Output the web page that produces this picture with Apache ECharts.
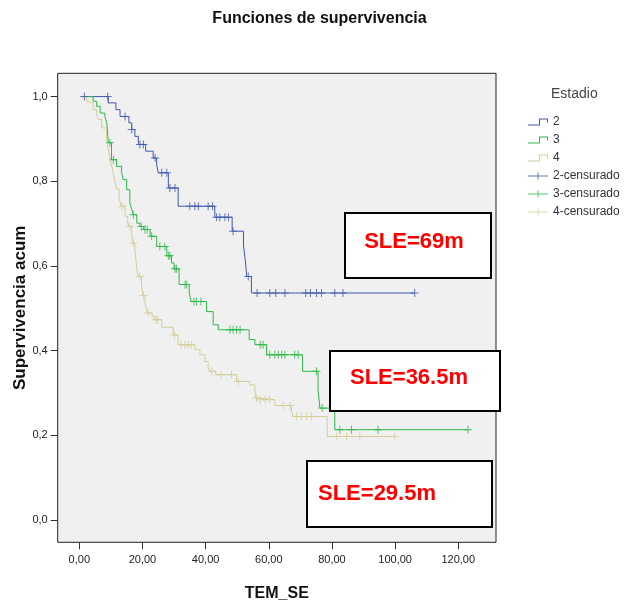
<!DOCTYPE html>
<html lang="es">
<head>
<meta charset="UTF-8">
<title>Funciones de supervivencia</title>
<script src="https://cdn.jsdelivr.net/npm/echarts@6.0.0/dist/echarts.min.js"></script>
<style>
  html, body { margin: 0; padding: 0; background: #fff; }
  #chart { width: 639px; height: 608px; }
</style>
</head>
<body>
<div id="chart"></div>
<script>
// marcas del eje
var ticksX = [0, 20, 40, 60, 80, 100, 120];
var ticksY = [0, 0.2, 0.4, 0.6, 0.8, 1.0];

// Estadio 2: [tiempo, supervivencia tras el evento]
var pasos2 = [[0.5,1],[9.2,0.985],[11.6,0.969],[12.9,0.953],[15.7,0.938],[16.6,0.922],[17.6,0.906],
  [18.7,0.887],[21.0,0.871],[23.4,0.855],[24.5,0.839],[25.0,0.820],[28.2,0.784],[31.3,0.741],
  [42.9,0.715],[48.4,0.682],[52.0,0.647],[52.6,0.611],[53.0,0.575],[54.5,0.536],[106.2,0.536]];
var cens2 = [[1.6,1],[9.0,1],[14.5,0.953],[16.6,0.922],[19.2,0.887],[20.3,0.887],[24.0,0.855],
  [26.1,0.820],[27.7,0.820],[28.7,0.784],[30.3,0.784],[35.0,0.741],[36.6,0.741],[37.7,0.741],
  [40.8,0.741],[42.2,0.741],[43.5,0.715],[44.5,0.715],[46.1,0.715],[47.2,0.715],[48.7,0.682],
  [53.5,0.575],[56.3,0.536],[60.3,0.536],[62.2,0.536],[65.1,0.536],[71.7,0.536],[73.2,0.536],
  [75.1,0.536],[76.7,0.536],[80.9,0.536],[83.5,0.536],[106.2,0.536]];

// Estadio 3
var pasos3 = [[0.5,1],[4.4,0.989],[5.5,0.977],[6.6,0.961],[8.1,0.953],[8.7,0.938],[9.2,0.891],
  [10.2,0.851],[11.8,0.835],[13.4,0.820],[13.9,0.804],[15.0,0.780],[16.0,0.749],[16.6,0.733],
  [17.1,0.721],[18.2,0.701],[19.2,0.693],[20.3,0.686],[22.4,0.670],[24.5,0.646],[27.7,0.624],
  [29.2,0.607],[30.0,0.593],[31.6,0.556],[34.8,0.536],[35.4,0.516],[40.3,0.492],[42.4,0.461],
  [44.0,0.449],[53.8,0.426],[55.6,0.414],[59.3,0.390],[70.7,0.351],[75.6,0.307],[76.2,0.264],
  [80.9,0.213],[123.1,0.213]];
var cens3 = [[9.7,0.891],[10.8,0.851],[17.1,0.721],[19.6,0.693],[20.8,0.686],[21.5,0.686],
  [22.9,0.670],[25.5,0.646],[27.1,0.646],[28.2,0.624],[28.7,0.624],[30.3,0.593],[30.8,0.593],
  [33.5,0.556],[34.0,0.556],[36.3,0.516],[37.1,0.516],[38.5,0.516],[47.7,0.449],[48.7,0.449],
  [49.8,0.449],[50.9,0.449],[57.3,0.414],[58.2,0.414],[60.3,0.390],[61.9,0.390],[63.0,0.390],
  [64.1,0.390],[65.1,0.390],[68.2,0.390],[69.3,0.390],[75.1,0.351],[76.9,0.264],[82.5,0.213],
  [86.2,0.213],[94.6,0.213],[123.1,0.213]];

// Estadio 4
var pasos4 = [[0.5,1],[2.3,0.989],[2.8,0.985],[4.4,0.969],[5.5,0.957],[6.0,0.946],[7.1,0.926],
  [8.6,0.898],[9.2,0.875],[9.7,0.855],[10.3,0.835],[10.8,0.815],[11.3,0.800],[11.8,0.782],
  [12.6,0.760],[13.2,0.741],[14.5,0.717],[15.3,0.705],[15.6,0.693],[16.6,0.675],[16.9,0.654],
  [17.6,0.638],[18.0,0.610],[18.2,0.591],[18.8,0.575],[19.7,0.560],[20.1,0.530],[20.8,0.510],
  [21.3,0.496],[21.6,0.489],[23.0,0.481],[23.8,0.473],[26.1,0.455],[29.7,0.437],[31.3,0.414],
  [36.6,0.402],[38.2,0.390],[39.8,0.374],[40.8,0.359],[41.4,0.351],[43.2,0.343],[49.8,0.327],
  [54.0,0.319],[55.6,0.303],[55.9,0.288],[56.5,0.284],[61.9,0.270],[67.2,0.256],[67.7,0.244],
  [78.5,0.197],[99.9,0.197]];
var cens4 = [[13.5,0.741],[16.0,0.693],[17.1,0.654],[19.2,0.575],[20.3,0.530],[21.8,0.489],
  [24.3,0.473],[24.8,0.473],[30.1,0.437],[32.2,0.414],[33.5,0.414],[34.5,0.414],[35.5,0.414],
  [41.9,0.351],[44.8,0.343],[48.2,0.343],[50.3,0.327],[56.1,0.288],[57.2,0.284],[58.8,0.284],
  [60.3,0.284],[64.6,0.270],[66.7,0.270],[68.8,0.244],[70.4,0.244],[72.0,0.244],[73.5,0.244],
  [81.5,0.197],[84.6,0.197],[88.8,0.197],[99.9,0.197]];

var colores = ['#3E58AC', '#2EB848', '#D3CE97'];
var cruz = 'path://M3.5,0H4.5V8H3.5Z M0,3.5H8V4.5H0Z';
var iconoPaso = 'path://M0,6H11V0H20V4H19V1H12V7H0Z';
var iconoCruz = 'path://M0,3H20V4H0Z M9.5,0H10.5V7H9.5Z';

function coma(v, d) { return v.toFixed(d).replace('.', ','); }

var chart = echarts.init(document.getElementById('chart'));

function linea(nombre, datos, color) {
  return { name: nombre, type: 'line', step: 'end', data: datos, symbol: 'none',
    lineStyle: { color: color, width: 1 }, itemStyle: { color: color }, z: 2 };
}
function censura(nombre, datos, color) {
  return { name: nombre, type: 'scatter', data: datos, symbol: cruz, symbolSize: 8,
    itemStyle: { color: color }, z: 3 };
}

var option = {
  animation: false,
  textStyle: { fontFamily: 'Liberation Sans' },
  title: [
    { text: 'Funciones de supervivencia', left: 'center', top: 11, padding: 0,
      textStyle: { fontSize: 16, fontWeight: 'bold', color: '#111' } },
    { text: 'Estadio', left: 551, top: 87, padding: 0,
      textStyle: { fontSize: 14, fontWeight: 'normal', color: '#444' } }
  ],
  legend: {
    orient: 'vertical', left: 528, top: 116, padding: 0,
    itemWidth: 20, itemHeight: 7, itemGap: 6, selectedMode: false,
    itemStyle: { borderWidth: 0 },
    textStyle: { fontSize: 12, color: '#333' },
    data: [
      { name: '2', icon: iconoPaso }, { name: '3', icon: iconoPaso }, { name: '4', icon: iconoPaso },
      { name: '2-censurado', icon: iconoCruz }, { name: '3-censurado', icon: iconoCruz },
      { name: '4-censurado', icon: iconoCruz }
    ]
  },
  grid: {
    left: 57.7, top: 73.3, width: 438.3, height: 469, show: true,
    backgroundColor: '#F0F0F0', borderColor: '#222', borderWidth: 1,
    outerBoundsMode: 'none'
  },
  xAxis: {
    type: 'value', min: -6.84, max: 131.95,
    name: 'TEM_SE', nameLocation: 'middle', nameGap: 43, nameMoveOverlap: false,
    nameTextStyle: { fontSize: 16, fontWeight: 'bold', color: '#111' },
    axisLine: { show: false, onZero: false },
    axisTick: { show: true, length: 7, customValues: ticksX, lineStyle: { color: '#333' } },
    axisLabel: { customValues: ticksX, margin: 12, fontSize: 11, color: '#222',
      formatter: function (v) { return coma(v, 2); } },
    splitLine: { show: false }
  },
  yAxis: {
    type: 'value', min: -0.053, max: 1.055,
    name: 'Supervivencia acum', nameLocation: 'middle', nameGap: 29, nameMoveOverlap: false,
    nameTextStyle: { fontSize: 17, fontWeight: 'bold', color: '#111' },
    axisLine: { show: false, onZero: false },
    axisTick: { show: true, length: 7, customValues: ticksY, lineStyle: { color: '#333' } },
    axisLabel: { customValues: ticksY, margin: 10, fontSize: 11, color: '#222',
      formatter: function (v) { return coma(v, 1); } },
    splitLine: { show: false }
  },
  series: [
    linea('2', pasos2, colores[0]), linea('3', pasos3, colores[1]), linea('4', pasos4, colores[2]),
    censura('2-censurado', cens2, colores[0]), censura('3-censurado', cens3, colores[1]),
    censura('4-censurado', cens4, colores[2])
  ],
  graphic: [
    { type: 'rect', z: 100, shape: { x: 345, y: 213, width: 146, height: 65 },
      style: { fill: '#fff', stroke: '#000', lineWidth: 2 } },
    { type: 'text', z: 101, style: { text: 'SLE=69m', x: 414, y: 242, fill: '#f00',
      font: 'bold 22px "Liberation Sans"', textAlign: 'center', align: 'center',
      textVerticalAlign: 'middle', verticalAlign: 'middle' } },
    { type: 'rect', z: 100, shape: { x: 330, y: 351, width: 170, height: 60 },
      style: { fill: '#fff', stroke: '#000', lineWidth: 2 } },
    { type: 'text', z: 101, style: { text: 'SLE=36.5m', x: 409, y: 378, fill: '#f00',
      font: 'bold 22px "Liberation Sans"', textAlign: 'center', align: 'center',
      textVerticalAlign: 'middle', verticalAlign: 'middle' } },
    { type: 'rect', z: 100, shape: { x: 307, y: 461, width: 185, height: 66 },
      style: { fill: '#fff', stroke: '#000', lineWidth: 2 } },
    { type: 'text', z: 101, style: { text: 'SLE=29.5m', x: 377, y: 494, fill: '#f00',
      font: 'bold 22px "Liberation Sans"', textAlign: 'center', align: 'center',
      textVerticalAlign: 'middle', verticalAlign: 'middle' } }
  ]
};

chart.setOption(option);
</script>
</body>
</html>
